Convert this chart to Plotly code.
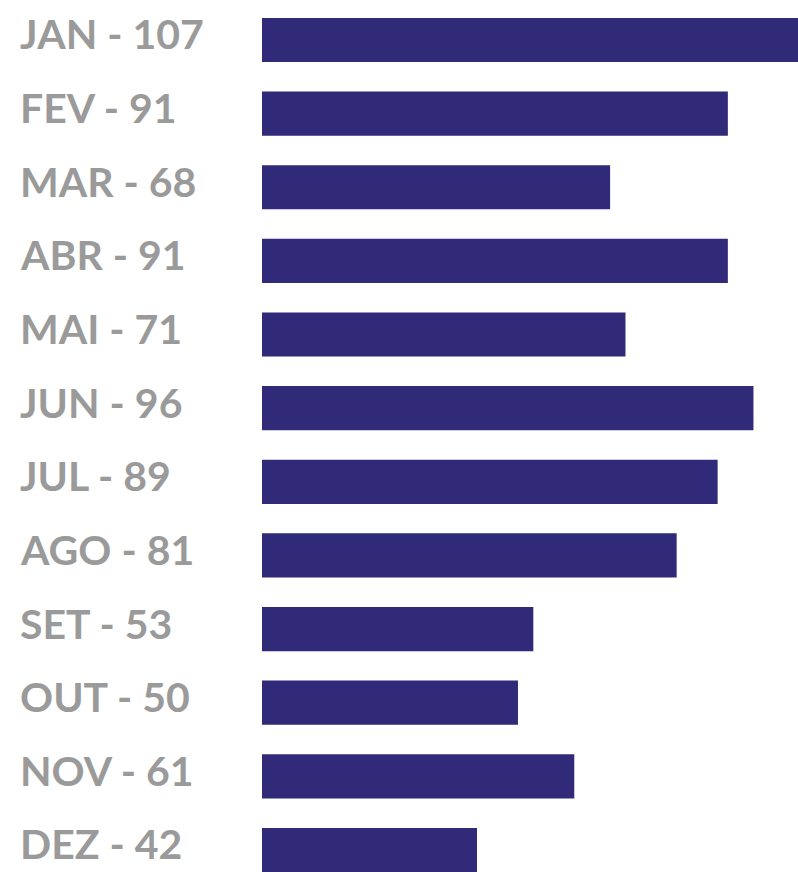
import plotly.graph_objects as go

months = ["JAN", "FEV", "MAR", "ABR", "MAI", "JUN", "JUL", "AGO", "SET", "OUT", "NOV", "DEZ"]
values = [107, 91, 68, 91, 71, 96, 89, 81, 53, 50, 61, 42]

W, H = 798, 872
L = 262
pos = list(range(len(months)))

fig = go.Figure(go.Bar(
    x=values, y=pos, orientation="h", width=0.6,
    marker=dict(color="#312a78", line=dict(width=0)),
    hoverinfo="skip",
))

for i, (m, v) in enumerate(zip(months, values)):
    fig.add_annotation(
        x=-(L - 18) / (W - L), xref="paper", y=i, yref="y",
        text=f"{m} - {v}", showarrow=False, xanchor="left", yanchor="middle",
        yshift=6,
        font=dict(family="Lato", size=41, color="#9a9a9a", weight="bold"),
    )

fig.update_layout(
    width=W, height=H,
    margin=dict(l=L, r=0, t=0, b=0),
    paper_bgcolor="white", plot_bgcolor="white",
    showlegend=False,
    xaxis=dict(range=[0, 104.7], visible=False, fixedrange=True),
    yaxis=dict(range=[11.299, -0.543], visible=False, fixedrange=True),
)

fig.write_html(
    "out.html",
    config={"displayModeBar": False},
    post_script="document.body.style.margin='0';document.body.style.overflow='hidden';",
)
